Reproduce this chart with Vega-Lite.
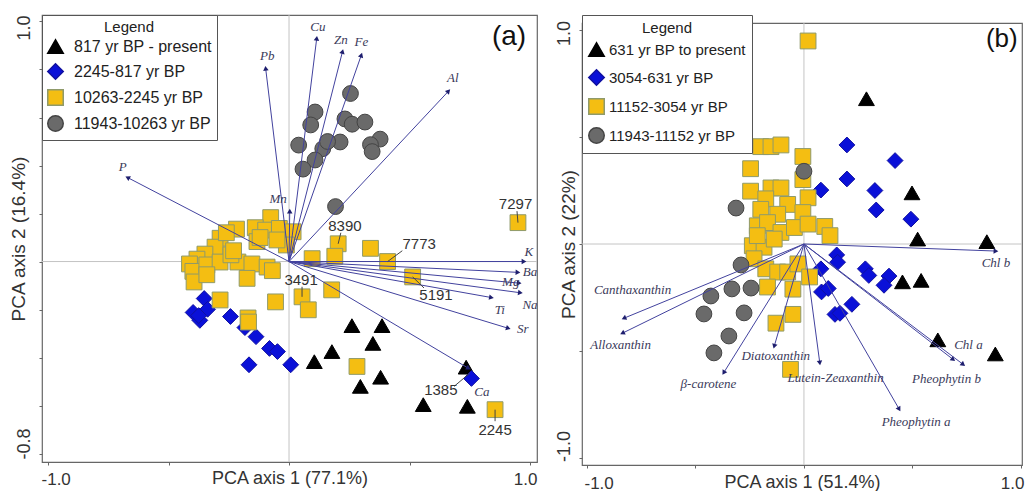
{
  "$schema": "https://vega.github.io/schema/vega-lite/v6.json",
  "background": "white",
  "padding": {"left": 8, "top": 13, "right": 0, "bottom": 0},
  "spacing": 15,
  "config": {
    "view": {"stroke": "#666666", "strokeWidth": 1.2},
    "font": "Liberation Sans"
  },
  "resolve": {
    "scale": {"x": "independent", "y": "independent", "fill": "independent", "stroke": "independent", "shape": "independent"},
    "legend": {"fill": "independent", "stroke": "independent", "shape": "independent"}
  },
  "datasets": {
    "ptsA": [
      {"g": "817 yr BP - present", "x": 0.261, "y": -0.267},
      {"g": "817 yr BP - present", "x": 0.386, "y": -0.267},
      {"g": "817 yr BP - present", "x": 0.178, "y": -0.375},
      {"g": "817 yr BP - present", "x": 0.348, "y": -0.341},
      {"g": "817 yr BP - present", "x": 0.105, "y": -0.417},
      {"g": "817 yr BP - present", "x": 0.296, "y": -0.52},
      {"g": "817 yr BP - present", "x": 0.38, "y": -0.482},
      {"g": "817 yr BP - present", "x": 0.557, "y": -0.596},
      {"g": "817 yr BP - present", "x": 0.74, "y": -0.603},
      {"g": "817 yr BP - present", "x": 0.735, "y": -0.44},
      {"g": "2245-817 yr BP", "x": -0.352, "y": -0.154},
      {"g": "2245-817 yr BP", "x": -0.398, "y": -0.212},
      {"g": "2245-817 yr BP", "x": -0.37, "y": -0.245},
      {"g": "2245-817 yr BP", "x": -0.338, "y": -0.199},
      {"g": "2245-817 yr BP", "x": -0.375, "y": -0.225},
      {"g": "2245-817 yr BP", "x": -0.243, "y": -0.229},
      {"g": "2245-817 yr BP", "x": -0.183, "y": -0.275},
      {"g": "2245-817 yr BP", "x": -0.137, "y": -0.313},
      {"g": "2245-817 yr BP", "x": -0.081, "y": -0.362},
      {"g": "2245-817 yr BP", "x": -0.048, "y": -0.375},
      {"g": "2245-817 yr BP", "x": -0.166, "y": -0.43},
      {"g": "2245-817 yr BP", "x": 0.007, "y": -0.43},
      {"g": "2245-817 yr BP", "x": 0.757, "y": -0.487},
      {"g": "10263-2245 yr BP", "x": -0.076, "y": 0.183},
      {"g": "10263-2245 yr BP", "x": -0.218, "y": 0.135},
      {"g": "10263-2245 yr BP", "x": -0.14, "y": 0.141},
      {"g": "10263-2245 yr BP", "x": -0.097, "y": 0.131},
      {"g": "10263-2245 yr BP", "x": -0.04, "y": 0.138},
      {"g": "10263-2245 yr BP", "x": 0.017, "y": 0.124},
      {"g": "10263-2245 yr BP", "x": -0.133, "y": 0.083},
      {"g": "10263-2245 yr BP", "x": -0.011, "y": 0.069},
      {"g": "10263-2245 yr BP", "x": -0.286, "y": 0.097},
      {"g": "10263-2245 yr BP", "x": -0.307, "y": 0.06},
      {"g": "10263-2245 yr BP", "x": -0.349, "y": 0.031},
      {"g": "10263-2245 yr BP", "x": -0.382, "y": 0.01},
      {"g": "10263-2245 yr BP", "x": -0.413, "y": -0.01},
      {"g": "10263-2245 yr BP", "x": -0.399, "y": -0.041},
      {"g": "10263-2245 yr BP", "x": -0.394, "y": -0.085},
      {"g": "10263-2245 yr BP", "x": -0.341, "y": -0.014},
      {"g": "10263-2245 yr BP", "x": -0.286, "y": -0.002},
      {"g": "10263-2245 yr BP", "x": -0.212, "y": -0.002},
      {"g": "10263-2245 yr BP", "x": -0.154, "y": -0.01},
      {"g": "10263-2245 yr BP", "x": -0.091, "y": -0.023},
      {"g": "10263-2245 yr BP", "x": -0.069, "y": -0.038},
      {"g": "10263-2245 yr BP", "x": -0.174, "y": -0.07},
      {"g": "10263-2245 yr BP", "x": -0.341, "y": -0.055},
      {"g": "10263-2245 yr BP", "x": -0.241, "y": 0.028},
      {"g": "10263-2245 yr BP", "x": -0.26, "y": 0.12},
      {"g": "10263-2245 yr BP", "x": -0.12, "y": 0.1},
      {"g": "10263-2245 yr BP", "x": -0.05, "y": 0.09},
      {"g": "10263-2245 yr BP", "x": -0.23, "y": 0.045},
      {"g": "10263-2245 yr BP", "x": -0.286, "y": -0.16},
      {"g": "10263-2245 yr BP", "x": -0.17, "y": -0.235},
      {"g": "10263-2245 yr BP", "x": -0.168, "y": -0.252},
      {"g": "10263-2245 yr BP", "x": -0.056, "y": -0.168},
      {"g": "10263-2245 yr BP", "x": 0.054, "y": -0.147},
      {"g": "10263-2245 yr BP", "x": 0.08, "y": -0.201},
      {"g": "10263-2245 yr BP", "x": 0.177, "y": -0.118},
      {"g": "10263-2245 yr BP", "x": 0.096, "y": 0.012},
      {"g": "10263-2245 yr BP", "x": 0.204, "y": 0.074},
      {"g": "10263-2245 yr BP", "x": 0.19, "y": 0.022},
      {"g": "10263-2245 yr BP", "x": 0.338, "y": 0.055},
      {"g": "10263-2245 yr BP", "x": 0.409, "y": 0.0},
      {"g": "10263-2245 yr BP", "x": 0.513, "y": -0.064},
      {"g": "10263-2245 yr BP", "x": 0.282, "y": -0.437},
      {"g": "10263-2245 yr BP", "x": 0.95, "y": 0.162},
      {"g": "10263-2245 yr BP", "x": 0.855, "y": -0.617},
      {"g": "11943-10263 yr BP", "x": 0.255, "y": 0.7},
      {"g": "11943-10263 yr BP", "x": 0.108, "y": 0.623},
      {"g": "11943-10263 yr BP", "x": 0.09, "y": 0.569},
      {"g": "11943-10263 yr BP", "x": 0.232, "y": 0.594},
      {"g": "11943-10263 yr BP", "x": 0.262, "y": 0.572},
      {"g": "11943-10263 yr BP", "x": 0.315, "y": 0.581},
      {"g": "11943-10263 yr BP", "x": 0.212, "y": 0.498},
      {"g": "11943-10263 yr BP", "x": 0.378, "y": 0.51},
      {"g": "11943-10263 yr BP", "x": 0.338, "y": 0.487},
      {"g": "11943-10263 yr BP", "x": 0.345, "y": 0.458},
      {"g": "11943-10263 yr BP", "x": 0.04, "y": 0.485},
      {"g": "11943-10263 yr BP", "x": 0.14, "y": 0.47},
      {"g": "11943-10263 yr BP", "x": 0.16, "y": 0.5},
      {"g": "11943-10263 yr BP", "x": 0.108, "y": 0.423},
      {"g": "11943-10263 yr BP", "x": 0.058, "y": 0.385},
      {"g": "11943-10263 yr BP", "x": 0.193, "y": 0.229}
    ],
    "arrA": [
      {"name": "P", "x": -0.67, "y": 0.35, "lx": -0.69, "ly": 0.395},
      {"name": "Pb", "x": -0.097, "y": 0.805, "lx": -0.09, "ly": 0.855},
      {"name": "Cu", "x": 0.115, "y": 0.93, "lx": 0.12, "ly": 0.975},
      {"name": "Zn", "x": 0.222, "y": 0.875, "lx": 0.215, "ly": 0.922},
      {"name": "Fe", "x": 0.3, "y": 0.86, "lx": 0.3, "ly": 0.913},
      {"name": "Al", "x": 0.662, "y": 0.71, "lx": 0.68, "ly": 0.765},
      {"name": "Mn", "x": 0.003, "y": 0.21, "lx": -0.045, "ly": 0.262},
      {"name": "K", "x": 0.975, "y": 0.0, "lx": 0.995, "ly": 0.04},
      {"name": "Ba", "x": 0.95, "y": -0.045, "lx": 1.0, "ly": -0.045},
      {"name": "Mg", "x": 0.955, "y": -0.09, "lx": 0.92, "ly": -0.085},
      {"name": "Na", "x": 0.96, "y": -0.13, "lx": 1.0, "ly": -0.18},
      {"name": "Ti", "x": 0.84, "y": -0.15, "lx": 0.875, "ly": -0.2},
      {"name": "Sr", "x": 0.91, "y": -0.278, "lx": 0.97, "ly": -0.283},
      {"name": "Ca", "x": 0.745, "y": -0.445, "lx": 0.8, "ly": -0.545}
    ],
    "lblA": [
      {"t": "7297", "px": 0.95, "py": 0.162, "lx": 0.946, "ly": 0.21, "tx": 0.94, "ty": 0.24},
      {"t": "8390", "px": 0.204, "py": 0.074, "lx": 0.215, "ly": 0.12, "tx": 0.232, "ty": 0.15},
      {"t": "7773", "px": 0.409, "py": 0.0, "lx": 0.47, "ly": 0.045, "tx": 0.54, "ty": 0.072},
      {"t": "5191", "px": 0.513, "py": -0.064, "lx": 0.56, "ly": -0.11, "tx": 0.61, "ty": -0.138},
      {"t": "3491", "px": 0.054, "py": -0.147, "lx": 0.054, "ly": -0.105, "tx": 0.05, "ty": -0.075},
      {"t": "1385", "px": 0.75, "py": -0.465, "lx": 0.685, "ly": -0.52, "tx": 0.63, "ty": -0.535},
      {"t": "2245", "px": 0.855, "py": -0.617, "lx": 0.855, "ly": -0.665, "tx": 0.855, "ty": -0.7}
    ],
    "ptsB": [
      {"g": "631 yr BP to present", "x": 0.288, "y": 0.679},
      {"g": "631 yr BP to present", "x": 0.498, "y": 0.239},
      {"g": "631 yr BP to present", "x": 0.524, "y": 0.023},
      {"g": "631 yr BP to present", "x": 0.843, "y": 0.011},
      {"g": "631 yr BP to present", "x": 0.454, "y": -0.177},
      {"g": "631 yr BP to present", "x": 0.54, "y": -0.17},
      {"g": "631 yr BP to present", "x": 0.617, "y": -0.448},
      {"g": "631 yr BP to present", "x": 0.882, "y": -0.514},
      {"g": "3054-631 yr BP", "x": 0.198, "y": 0.463},
      {"g": "3054-631 yr BP", "x": 0.42, "y": 0.39},
      {"g": "3054-631 yr BP", "x": 0.198, "y": 0.304},
      {"g": "3054-631 yr BP", "x": 0.078, "y": 0.252},
      {"g": "3054-631 yr BP", "x": 0.327, "y": 0.25},
      {"g": "3054-631 yr BP", "x": 0.333, "y": 0.159},
      {"g": "3054-631 yr BP", "x": 0.493, "y": 0.116},
      {"g": "3054-631 yr BP", "x": 0.151, "y": -0.051},
      {"g": "3054-631 yr BP", "x": 0.155, "y": -0.085},
      {"g": "3054-631 yr BP", "x": 0.078, "y": -0.116},
      {"g": "3054-631 yr BP", "x": 0.283, "y": -0.116},
      {"g": "3054-631 yr BP", "x": 0.299, "y": -0.147},
      {"g": "3054-631 yr BP", "x": 0.392, "y": -0.15},
      {"g": "3054-631 yr BP", "x": 0.369, "y": -0.193},
      {"g": "3054-631 yr BP", "x": 0.081, "y": -0.224},
      {"g": "3054-631 yr BP", "x": 0.112, "y": -0.208},
      {"g": "3054-631 yr BP", "x": 0.221, "y": -0.282},
      {"g": "3054-631 yr BP", "x": 0.143, "y": -0.329},
      {"g": "3054-631 yr BP", "x": 0.166, "y": -0.324},
      {"g": "11152-3054 yr BP", "x": 0.019, "y": 0.949},
      {"g": "11152-3054 yr BP", "x": -0.199, "y": 0.455},
      {"g": "11152-3054 yr BP", "x": -0.152, "y": 0.455},
      {"g": "11152-3054 yr BP", "x": -0.106, "y": 0.463},
      {"g": "11152-3054 yr BP", "x": -0.005, "y": 0.409},
      {"g": "11152-3054 yr BP", "x": -0.246, "y": 0.352},
      {"g": "11152-3054 yr BP", "x": -0.005, "y": 0.301},
      {"g": "11152-3054 yr BP", "x": -0.246, "y": 0.247},
      {"g": "11152-3054 yr BP", "x": -0.152, "y": 0.262},
      {"g": "11152-3054 yr BP", "x": -0.106, "y": 0.262},
      {"g": "11152-3054 yr BP", "x": -0.176, "y": 0.211},
      {"g": "11152-3054 yr BP", "x": 0.019, "y": 0.216},
      {"g": "11152-3054 yr BP", "x": -0.075, "y": 0.185},
      {"g": "11152-3054 yr BP", "x": -0.199, "y": 0.162},
      {"g": "11152-3054 yr BP", "x": -0.121, "y": 0.139},
      {"g": "11152-3054 yr BP", "x": -0.005, "y": 0.147},
      {"g": "11152-3054 yr BP", "x": -0.215, "y": 0.085},
      {"g": "11152-3054 yr BP", "x": -0.168, "y": 0.1},
      {"g": "11152-3054 yr BP", "x": -0.106, "y": 0.054},
      {"g": "11152-3054 yr BP", "x": -0.044, "y": 0.077},
      {"g": "11152-3054 yr BP", "x": 0.019, "y": 0.093},
      {"g": "11152-3054 yr BP", "x": 0.096, "y": 0.082},
      {"g": "11152-3054 yr BP", "x": 0.12, "y": 0.039},
      {"g": "11152-3054 yr BP", "x": -0.238, "y": -0.008},
      {"g": "11152-3054 yr BP", "x": -0.184, "y": -0.015},
      {"g": "11152-3054 yr BP", "x": -0.23, "y": -0.069},
      {"g": "11152-3054 yr BP", "x": -0.176, "y": -0.116},
      {"g": "11152-3054 yr BP", "x": -0.121, "y": -0.131},
      {"g": "11152-3054 yr BP", "x": -0.075, "y": -0.131},
      {"g": "11152-3054 yr BP", "x": -0.028, "y": -0.093},
      {"g": "11152-3054 yr BP", "x": 0.026, "y": -0.154},
      {"g": "11152-3054 yr BP", "x": -0.168, "y": -0.201},
      {"g": "11152-3054 yr BP", "x": -0.051, "y": -0.211},
      {"g": "11152-3054 yr BP", "x": -0.051, "y": -0.329},
      {"g": "11152-3054 yr BP", "x": -0.129, "y": -0.37},
      {"g": "11152-3054 yr BP", "x": -0.062, "y": -0.586},
      {"g": "11152-3054 yr BP", "x": -0.137, "y": 0.023},
      {"g": "11152-3054 yr BP", "x": -0.215, "y": 0.039},
      {"g": "11943-11152 yr BP", "x": 0.0, "y": 0.34},
      {"g": "11943-11152 yr BP", "x": -0.313, "y": 0.168},
      {"g": "11943-11152 yr BP", "x": -0.29, "y": -0.098},
      {"g": "11943-11152 yr BP", "x": -0.429, "y": -0.243},
      {"g": "11943-11152 yr BP", "x": -0.332, "y": -0.21},
      {"g": "11943-11152 yr BP", "x": -0.244, "y": -0.206},
      {"g": "11943-11152 yr BP", "x": -0.461, "y": -0.327},
      {"g": "11943-11152 yr BP", "x": -0.276, "y": -0.322},
      {"g": "11943-11152 yr BP", "x": -0.346, "y": -0.43},
      {"g": "11943-11152 yr BP", "x": -0.415, "y": -0.509}
    ],
    "arrB": [
      {"name": "Chl b", "x": 0.885, "y": -0.033, "lx": 0.885, "ly": -0.089},
      {"name": "Chl a", "x": 0.688, "y": -0.54, "lx": 0.758, "ly": -0.471},
      {"name": "Pheophytin b", "x": 0.734, "y": -0.563, "lx": 0.657, "ly": -0.633},
      {"name": "Pheophytin a", "x": 0.439, "y": -0.772, "lx": 0.517, "ly": -0.833},
      {"name": "Lutein-Zeaxanthin", "x": 0.073, "y": -0.556, "lx": 0.146, "ly": -0.625},
      {"name": "Diatoxanthin", "x": -0.137, "y": -0.478, "lx": -0.13, "ly": -0.523},
      {"name": "β-carotene", "x": -0.37, "y": -0.602, "lx": -0.44, "ly": -0.656},
      {"name": "Canthaxanthin", "x": -0.83, "y": -0.347, "lx": -0.79, "ly": -0.216},
      {"name": "Alloxanthin", "x": -0.837, "y": -0.417, "lx": -0.845, "ly": -0.471}
    ]
  },
  "hconcat": [
    {
      "width": 495,
      "height": 447,
      "layer": [
        {
          "data": {"values": [{"v": 0}]},
          "mark": {"type": "rule", "color": "#c4c4c4", "strokeWidth": 1},
          "encoding": {"x": {"field": "v", "type": "quantitative", "scale": {"domain": [-1.025, 1.029], "nice": false, "zero": false}}}
        },
        {
          "data": {"values": [{"v": 0}]},
          "mark": {"type": "rule", "color": "#c4c4c4", "strokeWidth": 1},
          "encoding": {"y": {"field": "v", "type": "quantitative", "scale": {"domain": [-0.835, 1.027], "nice": false, "zero": false}}}
        },
        {
          "data": {"name": "ptsA"},
          "mark": {"type": "point", "filled": true, "size": 250, "strokeWidth": 1, "opacity": 1},
          "encoding": {
            "x": {"field": "x", "type": "quantitative", "scale": {"domain": [-1.025, 1.029], "nice": false, "zero": false},
              "axis": {"title": "PCA axis 1 (77.1%)", "values": [-1, -0.5, 0, 0.5, 1], "labelExpr": "datum.value == -1 ? '-1.0' : datum.value == 1 ? '1.0' : ''", "domain": false, "grid": false, "tickSize": 3, "tickColor": "#666666", "labelFontSize": 17, "labelColor": "#333333", "labelPadding": 6, "labelFlush": 10, "labelFlushOffset": 7, "titleFontSize": 18, "titleFontWeight": "normal", "titleColor": "#333333", "titleY": 16, "titleBaseline": "middle"}},
            "y": {"field": "y", "type": "quantitative", "scale": {"domain": [-0.835, 1.027], "nice": false, "zero": false},
              "axis": {"title": "PCA axis 2 (16.4%)", "values": [-0.8, -0.6, -0.4, -0.2, 0, 0.2, 0.4, 0.6, 0.8, 1.0], "labelExpr": "datum.value > 0.99 ? '1.0' : datum.value < -0.79 ? '-0.8' : ''", "domain": false, "grid": false, "tickSize": 3, "tickColor": "#666666", "labelFontSize": 18, "labelColor": "#333333", "labelAngle": -90, "labelAlign": "center", "labelBaseline": "bottom", "labelPadding": 6, "labelOffset": {"condition": {"test": "datum.value > 0", "value": 6}, "value": -10}, "titleFontSize": 19, "titleFontWeight": "normal", "titleColor": "#333333", "titleAngle": -90, "titleX": -24, "titleAlign": "center", "titleBaseline": "middle"}},
            "shape": {"field": "g", "type": "nominal", "scale": {"domain": ["817 yr BP - present", "2245-817 yr BP", "10263-2245 yr BP", "11943-10263 yr BP"], "range": ["triangle-up", "diamond", "square", "circle"]},
              "legend": {"title": "Legend", "orient": "top-left", "offset": 0, "padding": 5, "strokeColor": "#555555", "fillColor": "white", "titleAnchor": "middle", "titleAlign": "center", "titleFontSize": 15, "titleFontWeight": "normal", "titleColor": "#222222", "titlePadding": 3, "labelFontSize": 16, "labelColor": "#222222", "labelOffset": 10, "rowPadding": 3, "symbolSize": 240}},
            "fill": {"field": "g", "type": "nominal", "scale": {"domain": ["817 yr BP - present", "2245-817 yr BP", "10263-2245 yr BP", "11943-10263 yr BP"], "range": ["#000000", "#0a10d8", "#f4be12", "#6a6a6a"]},
              "legend": {"title": "Legend", "orient": "top-left", "offset": 0, "padding": 5, "strokeColor": "#555555", "fillColor": "white", "titleAnchor": "middle", "titleAlign": "center", "titleFontSize": 15, "titleFontWeight": "normal", "titleColor": "#222222", "titlePadding": 3, "labelFontSize": 16, "labelColor": "#222222", "labelOffset": 10, "rowPadding": 3, "symbolSize": 240}},
            "stroke": {"field": "g", "type": "nominal", "scale": {"domain": ["817 yr BP - present", "2245-817 yr BP", "10263-2245 yr BP", "11943-10263 yr BP"], "range": ["#000000", "#1010a0", "#8f9a6a", "#444444"]},
              "legend": {"title": "Legend", "orient": "top-left", "offset": 0, "padding": 5, "strokeColor": "#555555", "fillColor": "white", "titleAnchor": "middle", "titleAlign": "center", "titleFontSize": 15, "titleFontWeight": "normal", "titleColor": "#222222", "titlePadding": 3, "labelFontSize": 16, "labelColor": "#222222", "labelOffset": 10, "rowPadding": 3, "symbolSize": 240}}
          }
        },
        {
          "data": {"name": "arrA"},
          "mark": {"type": "rule", "color": "#42429e", "strokeWidth": 1},
          "encoding": {
            "x": {"field": "x", "type": "quantitative", "scale": {"domain": [-1.025, 1.029], "nice": false, "zero": false}},
            "y": {"field": "y", "type": "quantitative", "scale": {"domain": [-0.835, 1.027], "nice": false, "zero": false}},
            "x2": {"datum": 0},
            "y2": {"datum": 0}
          }
        },
        {
          "data": {"name": "arrA"},
          "mark": {"type": "point", "shape": "triangle-up", "filled": true, "size": 30, "color": "#1e1e6e", "opacity": 1, "angle": {"expr": "atan2(datum.x, datum.y) * 180 / PI"}},
          "encoding": {
            "x": {"field": "x", "type": "quantitative", "scale": {"domain": [-1.025, 1.029], "nice": false, "zero": false}},
            "y": {"field": "y", "type": "quantitative", "scale": {"domain": [-0.835, 1.027], "nice": false, "zero": false}}
          }
        },
        {
          "data": {"name": "arrA"},
          "mark": {"type": "text", "font": "Liberation Serif", "fontStyle": "italic", "fontSize": 13, "color": "#3a3a5a", "clip": true},
          "encoding": {
            "x": {"field": "lx", "type": "quantitative", "scale": {"domain": [-1.025, 1.029], "nice": false, "zero": false}},
            "y": {"field": "ly", "type": "quantitative", "scale": {"domain": [-0.835, 1.027], "nice": false, "zero": false}},
            "text": {"field": "name"}
          }
        },
        {
          "data": {"name": "lblA"},
          "mark": {"type": "rule", "color": "#444444", "strokeWidth": 1},
          "encoding": {
            "x": {"field": "px", "type": "quantitative", "scale": {"domain": [-1.025, 1.029], "nice": false, "zero": false}},
            "y": {"field": "py", "type": "quantitative", "scale": {"domain": [-0.835, 1.027], "nice": false, "zero": false}},
            "x2": {"field": "lx"},
            "y2": {"field": "ly"}
          }
        },
        {
          "data": {"name": "lblA"},
          "mark": {"type": "text", "fontSize": 15, "color": "#333333"},
          "encoding": {
            "x": {"field": "tx", "type": "quantitative", "scale": {"domain": [-1.025, 1.029], "nice": false, "zero": false}},
            "y": {"field": "ty", "type": "quantitative", "scale": {"domain": [-0.835, 1.027], "nice": false, "zero": false}},
            "text": {"field": "t"}
          }
        },
        {
          "data": {"values": [{"t": "(a)", "x": 0.913, "y": 0.935}]},
          "mark": {"type": "text", "fontSize": 28, "color": "#111111"},
          "encoding": {
            "x": {"field": "x", "type": "quantitative", "scale": {"domain": [-1.025, 1.029], "nice": false, "zero": false}},
            "y": {"field": "y", "type": "quantitative", "scale": {"domain": [-0.835, 1.027], "nice": false, "zero": false}},
            "text": {"field": "t"}
          }
        }
      ]
    },
    {
      "spacing": 3,
      "vconcat": [
        {
          "width": 440,
          "height": 1,
          "view": {"stroke": null},
          "data": {"values": []},
          "mark": {"type": "point"}
        },
        {
          "width": 440,
          "height": 442,
          "layer": [
            {
              "data": {"values": [{"v": 0}]},
              "mark": {"type": "rule", "color": "#c4c4c4", "strokeWidth": 1},
              "encoding": {"x": {"field": "v", "type": "quantitative", "scale": {"domain": [-1.023, 1.005], "nice": false, "zero": false}}}
            },
            {
              "data": {"values": [{"v": 0}]},
              "mark": {"type": "rule", "color": "#c4c4c4", "strokeWidth": 1},
              "encoding": {"y": {"field": "v", "type": "quantitative", "scale": {"domain": [-1.033, 1.033], "nice": false, "zero": false}}}
            },
            {
              "data": {"name": "ptsB"},
              "mark": {"type": "point", "filled": true, "size": 250, "strokeWidth": 1, "opacity": 1},
              "encoding": {
                "x": {"field": "x", "type": "quantitative", "scale": {"domain": [-1.023, 1.005], "nice": false, "zero": false},
                  "axis": {"title": "PCA axis 1 (51.4%)", "values": [-1, -0.5, 0, 0.5, 1], "labelExpr": "datum.value == -1 ? '-1.0' : datum.value == 1 ? '1.0' : ''", "domain": false, "grid": false, "tickSize": 3, "tickColor": "#666666", "labelFontSize": 17, "labelColor": "#333333", "labelPadding": 7, "labelFlush": 10, "labelFlushOffset": 3, "titleFontSize": 18, "titleFontWeight": "normal", "titleColor": "#333333", "titleY": 17, "titleBaseline": "middle"}},
                "y": {"field": "y", "type": "quantitative", "scale": {"domain": [-1.033, 1.033], "nice": false, "zero": false},
                  "axis": {"title": "PCA axis 2 (22%)", "values": [-1, -0.5, 0, 0.5, 1], "labelExpr": "datum.value == -1 ? '-1.0' : datum.value == 1 ? '1.0' : ''", "domain": false, "grid": false, "tickSize": 3, "tickColor": "#666666", "labelFontSize": 18, "labelColor": "#333333", "labelAngle": -90, "labelAlign": "center", "labelBaseline": "bottom", "labelPadding": 6, "labelOffset": {"condition": {"test": "datum.value > 0", "value": 3}, "value": -12}, "titleFontSize": 19, "titleFontWeight": "normal", "titleColor": "#333333", "titleAngle": -90, "titleX": -14, "titleAlign": "center", "titleBaseline": "middle"}},
                "shape": {"field": "g", "type": "nominal", "scale": {"domain": ["631 yr BP to present", "3054-631 yr BP", "11152-3054 yr BP", "11943-11152 yr BP"], "range": ["triangle-up", "diamond", "square", "circle"]},
                  "legend": {"title": "Legend", "orient": "top-left", "offset": 0, "padding": 6, "strokeColor": "#555555", "fillColor": "white", "titleAnchor": "middle", "titleAlign": "center", "titleFontSize": 15, "titleFontWeight": "normal", "titleColor": "#222222", "titlePadding": 5, "labelFontSize": 15, "labelColor": "#222222", "labelOffset": 4, "rowPadding": 6, "symbolSize": 240}},
                "fill": {"field": "g", "type": "nominal", "scale": {"domain": ["631 yr BP to present", "3054-631 yr BP", "11152-3054 yr BP", "11943-11152 yr BP"], "range": ["#000000", "#0a10d8", "#f4be12", "#6a6a6a"]},
                  "legend": {"title": "Legend", "orient": "top-left", "offset": 0, "padding": 6, "strokeColor": "#555555", "fillColor": "white", "titleAnchor": "middle", "titleAlign": "center", "titleFontSize": 15, "titleFontWeight": "normal", "titleColor": "#222222", "titlePadding": 5, "labelFontSize": 15, "labelColor": "#222222", "labelOffset": 4, "rowPadding": 6, "symbolSize": 240}},
                "stroke": {"field": "g", "type": "nominal", "scale": {"domain": ["631 yr BP to present", "3054-631 yr BP", "11152-3054 yr BP", "11943-11152 yr BP"], "range": ["#000000", "#1010a0", "#8f9a6a", "#444444"]},
                  "legend": {"title": "Legend", "orient": "top-left", "offset": 0, "padding": 6, "strokeColor": "#555555", "fillColor": "white", "titleAnchor": "middle", "titleAlign": "center", "titleFontSize": 15, "titleFontWeight": "normal", "titleColor": "#222222", "titlePadding": 5, "labelFontSize": 15, "labelColor": "#222222", "labelOffset": 4, "rowPadding": 6, "symbolSize": 240}}
              }
            },
            {
              "data": {"name": "arrB"},
              "mark": {"type": "rule", "color": "#42429e", "strokeWidth": 1},
              "encoding": {
                "x": {"field": "x", "type": "quantitative", "scale": {"domain": [-1.023, 1.005], "nice": false, "zero": false}},
                "y": {"field": "y", "type": "quantitative", "scale": {"domain": [-1.033, 1.033], "nice": false, "zero": false}},
                "x2": {"datum": 0},
                "y2": {"datum": 0}
              }
            },
            {
              "data": {"name": "arrB"},
              "mark": {"type": "point", "shape": "triangle-up", "filled": true, "size": 30, "color": "#1e1e6e", "opacity": 1, "angle": {"expr": "atan2(datum.x, datum.y) * 180 / PI"}},
              "encoding": {
                "x": {"field": "x", "type": "quantitative", "scale": {"domain": [-1.023, 1.005], "nice": false, "zero": false}},
                "y": {"field": "y", "type": "quantitative", "scale": {"domain": [-1.033, 1.033], "nice": false, "zero": false}}
              }
            },
            {
              "data": {"name": "arrB"},
              "mark": {"type": "text", "font": "Liberation Serif", "fontStyle": "italic", "fontSize": 13, "color": "#3a3a5a", "clip": true},
              "encoding": {
                "x": {"field": "lx", "type": "quantitative", "scale": {"domain": [-1.023, 1.005], "nice": false, "zero": false}},
                "y": {"field": "ly", "type": "quantitative", "scale": {"domain": [-1.033, 1.033], "nice": false, "zero": false}},
                "text": {"field": "name"}
              }
            },
            {
              "data": {"values": [{"t": "(b)", "x": 0.912, "y": 0.958}]},
              "mark": {"type": "text", "fontSize": 26, "color": "#111111"},
              "encoding": {
                "x": {"field": "x", "type": "quantitative", "scale": {"domain": [-1.023, 1.005], "nice": false, "zero": false}},
                "y": {"field": "y", "type": "quantitative", "scale": {"domain": [-1.033, 1.033], "nice": false, "zero": false}},
                "text": {"field": "t"}
              }
            }
          ]
        }
      ]
    }
  ]
}
